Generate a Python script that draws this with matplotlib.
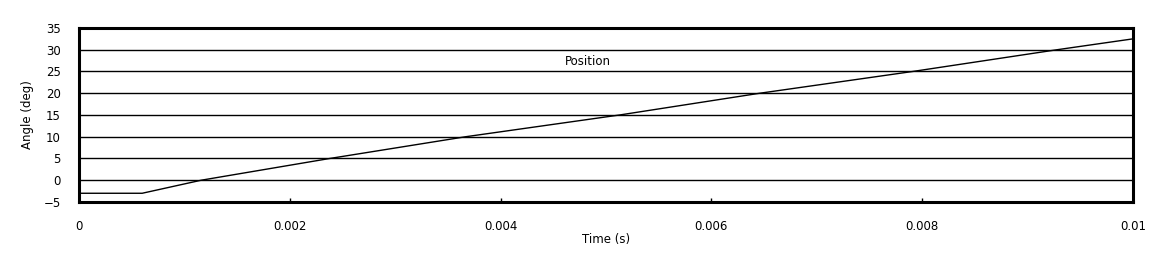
import numpy as np
import matplotlib
matplotlib.use('Agg')
from matplotlib import pyplot as plt

# position trace (time in s, angle in deg)
time_s = [0.0, 0.0006, 0.00116, 0.00238, 0.00367, 0.00513, 0.00646, 0.00791, 0.00928, 0.01]
angle_deg = [-3.0, -3.0, 0.0, 5.0, 10.0, 15.0, 20.0, 25.0, 30.0, 32.5]

x_ticks = [0, 0.002, 0.004, 0.006, 0.008, 0.01]
x_labels = ['0', '0.002', '0.004', '0.006', '0.008', '0.01']
y_ticks = [-5, 0, 5, 10, 15, 20, 25, 30, 35]
y_labels = ['\u22125', '0', '5', '10', '15', '20', '25', '30', '35']

plt.rcParams['font.family'] = ['DejaVu Sans']

fig = plt.figure(figsize=(11.68, 2.64), dpi=100)
ax = fig.add_axes([0.0676, 0.235, 0.9024, 0.659])

ax.plot(time_s, angle_deg, color='black', linewidth=1.0)

ax.set_xlim(0, 0.01)
ax.set_ylim(-5, 35)
ax.set_xticks(x_ticks)
ax.set_xticklabels(x_labels)
ax.set_yticks(y_ticks)
ax.set_yticklabels(y_labels)
ax.yaxis.grid(True, color='black', linewidth=1.0)
ax.set_axisbelow(True)

ax.tick_params(axis='x', direction='in', length=3, width=1, pad=13, labelsize=8.5)
ax.tick_params(axis='y', length=0, pad=13, labelsize=8.5)

for s in ax.spines.values():
    s.set_linewidth(2.2)
    s.set_color('black')

ax.set_xlabel('Time (s)', fontsize=8.5, labelpad=0)
ax.set_ylabel('Angle (deg)', fontsize=8.5, labelpad=7)
ax.text(0.483, 0.805, 'Position', transform=ax.transAxes, ha='center', va='center', fontsize=8.5)

fig.savefig('out.png', dpi=100)
